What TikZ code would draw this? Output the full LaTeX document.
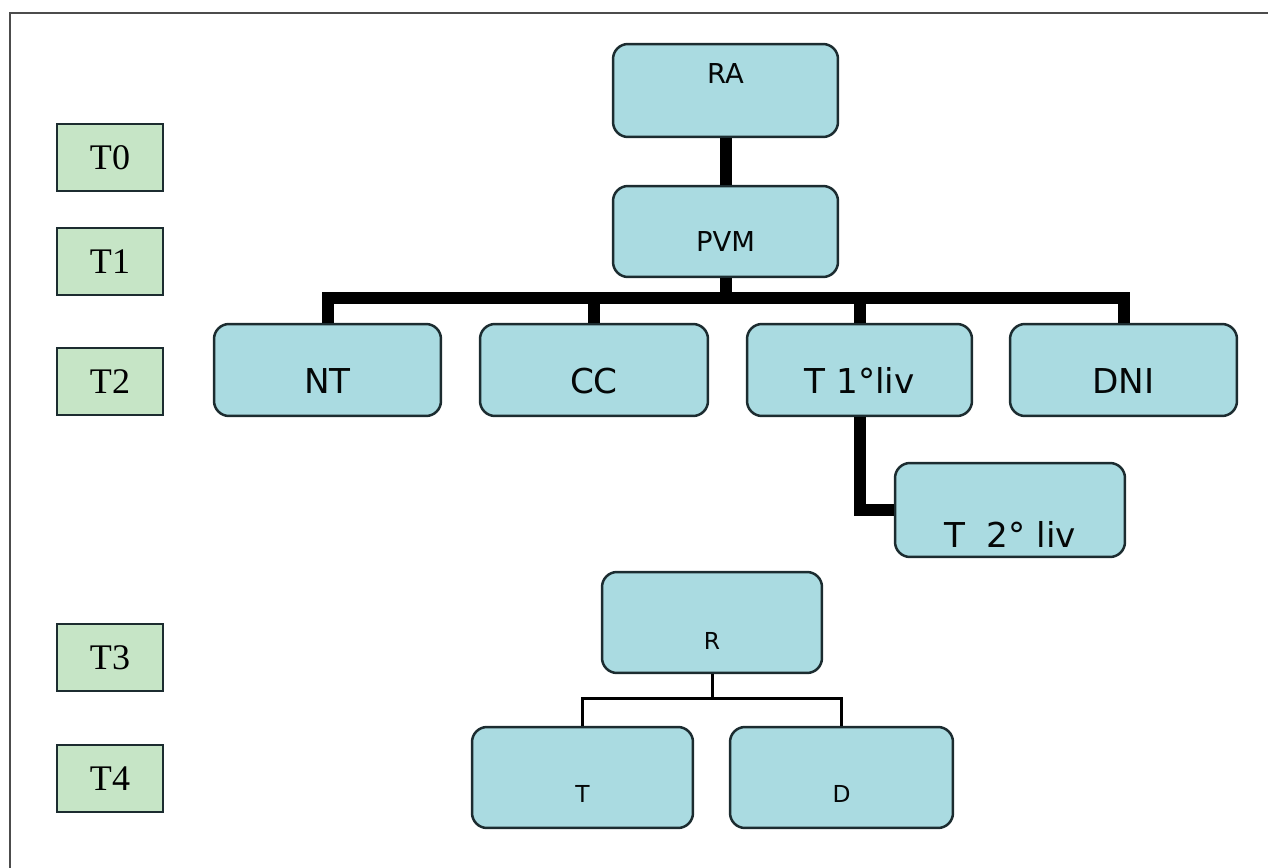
\documentclass[tikz,border=0pt]{standalone}
\usepackage{fontspec}
\setmainfont{Liberation Serif}
\newfontfamily\boxfont{DejaVu Sans}
\usepackage{tikz}
\definecolor{boxblue}{RGB}{170,219,225}
\definecolor{boxgreen}{RGB}{198,229,198}
\definecolor{boxline}{RGB}{28,44,48}
\tikzset{
  bluebox/.style={draw=boxline, fill=boxblue, line width=0.05cm, rounded corners=0.3cm,
    minimum width=4.5cm, minimum height=1.84cm, inner sep=0pt},
  greenbox/.style={draw=boxline, fill=boxgreen, line width=0.05cm,
    minimum width=2.12cm, minimum height=1.34cm, inner sep=0pt, font=\fontsize{20.5}{24}\selectfont},
  txt/.style={inner sep=0pt, text=black!85!boxline, font=\boxfont\fontsize{#1}{#1}\selectfont},
  thickline/.style={line width=0.24cm},
  thinline/.style={line width=0.06cm}
}

\begin{document}
\begin{tikzpicture}[x=0.02cm, y=-0.02cm]
  \useasboundingbox (0,0) rectangle (1268,868);
  \draw[line width=0.04cm, gray!60!black] (10,868) -- (10,13) -- (1268,13);

  % time steps
  \node (t0) [greenbox] at (110,157.5) {T0};
  \node (t1) [greenbox] at (110,261.5) {T1};
  \node (t2) [greenbox] at (110,381.5) {T2};
  \node (t3) [greenbox] at (110,657.5) {T3};
  \node (t4) [greenbox] at (110,778.5) {T4};

  % upper tree
  \node (ra) [bluebox, minimum height=1.86cm,
    label={[txt=15.6, yshift=0.34cm]center:RA}] at (725.5,90.5) {};
  \node (pvm) [bluebox, minimum height=1.82cm,
    label={[txt=15.6, yshift=-0.2cm]center:PVM}] at (725.5,231.5) {};
  \node (nt) [bluebox, minimum width=4.54cm,
    label={[txt=19.5, yshift=-0.22cm]center:NT}] at (327.5,370) {};
  \node (cc) [bluebox, minimum width=4.56cm,
    label={[txt=19.5, yshift=-0.22cm]center:CC}] at (594,370) {};
  \node (tliv1) [bluebox,
    label={[txt=19.5, yshift=-0.2cm]center:T 1°liv}] at (859.5,370) {};
  \node (dni) [bluebox, minimum width=4.54cm,
    label={[txt=19.5, yshift=-0.22cm]center:DNI}] at (1123.5,370) {};
  \node (tliv2) [bluebox, minimum width=4.6cm, minimum height=1.88cm,
    label={[txt=19.5, yshift=-0.48cm]center:T\ \ 2° liv}] at (1010,510) {};

  % lower tree
  \node (r) [bluebox, minimum width=4.4cm, minimum height=2.02cm,
    label={[txt=13.3, yshift=-0.36cm]center:R}] at (712,622.5) {};
  \node (t) [bluebox, minimum width=4.42cm, minimum height=2.02cm,
    label={[txt=13.3, yshift=-0.32cm]center:T}] at (582.5,777.5) {};
  \node (d) [bluebox, minimum width=4.46cm, minimum height=2.02cm,
    label={[txt=13.3, yshift=-0.32cm]center:D}] at (841.5,777.5) {};

  \coordinate (bar) at (725.5,298);
  \coordinate (rbar) at (712,698);
  \path[draw, thickline]
  (ra) -- (pvm)
  (pvm) -- (bar) -| (nt)
  (bar) -| (cc)
  (bar) -| (dni)
  (bar) -| (tliv1)
  (tliv1) |- (tliv2)
  ;
  \path[draw, thinline]
  (r) -- (rbar) -| (t)
  (rbar) -| (d)
  ;
\end{tikzpicture}
\end{document}
